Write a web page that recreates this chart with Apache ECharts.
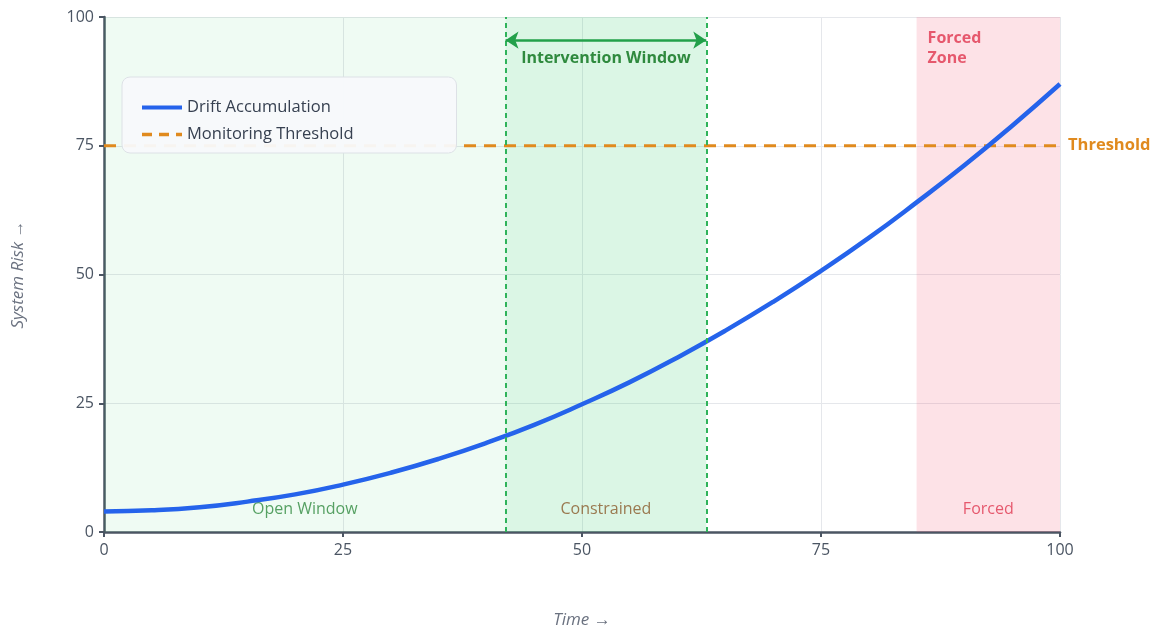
<!DOCTYPE html>
<html><head><meta charset="utf-8">
<script src="https://cdn.jsdelivr.net/npm/echarts@6/dist/echarts.min.js"></script>
<style>html,body{margin:0;padding:0;background:#fff}#c{width:1160px;height:627px}</style>
</head><body><div id="c"></div>
<script>
const timePoints = [0,5,10,15,20,25,30,35,40,45,50,55,60,65,70,75,80,85,90,95,100];
const driftValues = [4.0,4.2,4.8,5.9,7.3,9.2,11.5,14.2,17.3,20.8,24.8,29.1,33.9,39.1,44.7,50.7,57.1,64.0,71.2,78.9,87.0];
const thresholdValue = 75;
const xTicks = [0,25,50,75,100];
const yTicks = [0,25,50,75,100];
const zones = [
  {name:'Open Window', from:0, to:42},
  {name:'Constrained', from:42, to:63},
  {name:'Forced', from:85, to:100}
];
const interventionWindow = [42,63];
const zoneLabelY = 4.3;
const arrowY = 95.5;

const FONT = '"Open Sans", "Noto Sans", sans-serif';
const chart = echarts.init(document.getElementById('c'));
const driftData = timePoints.map((t,i)=>[t,driftValues[i]]);

const zoneColors = ['rgba(34,197,94,0.075)','rgba(34,197,94,0.16)','rgba(244,63,94,0.15)'];
const zoneText = ['#2f8a3e','#8a5a2a','#e0364f'];

chart.setOption({
  animation:false,
  textStyle:{fontFamily:FONT},
  grid:{left:104,right:100,top:17,bottom:95,outerBoundsMode:'none',containLabel:false},
  legend:{
    left:122, top:77, orient:'vertical',
    backgroundColor:'rgba(248,250,252,0.95)', borderColor:'#dde1e6', borderWidth:1, borderRadius:8,
    padding:[22,103,10,18], itemWidth:40, itemHeight:14, itemGap:10,
    itemStyle:{opacity:0},
    textStyle:{fontSize:16.5,color:'#374151',fontFamily:FONT},
    data:[
      {name:'Drift Accumulation', lineStyle:{width:4,color:'#2563eb'}},
      {name:'Monitoring Threshold', lineStyle:{width:3.5,color:'#e08a1e',type:[10,7]}}
    ]
  },
  xAxis:{
    type:'value', min:0, max:100, interval:25,
    name:'Time →', nameLocation:'middle', nameGap:80,
    nameTextStyle:{fontStyle:'italic',fontSize:17,color:'#6b7280'},
    axisLine:{show:true,lineStyle:{color:'#4b5563',width:2.5}},
    axisTick:{show:true,length:5,lineStyle:{color:'#4b5563',width:2}},
    axisLabel:{fontSize:16,color:'#4b5563',margin:10},
    splitLine:{show:true,lineStyle:{color:'#e5e7eb',width:1}}
  },
  yAxis:{
    type:'value', min:0, max:100, interval:25,
    name:'System Risk →', nameLocation:'middle', nameGap:77,
    nameTextStyle:{fontStyle:'italic',fontSize:17,color:'#6b7280'},
    axisLine:{show:true,lineStyle:{color:'#4b5563',width:2.5}},
    axisTick:{show:true,length:5,lineStyle:{color:'#4b5563',width:2}},
    axisLabel:{fontSize:16,color:'#4b5563',margin:10},
    splitLine:{show:true,lineStyle:{color:'#e5e7eb',width:1}}
  },
  series:[
    {
      name:'Zones', type:'line', data:[], silent:true,
      markArea:{
        silent:true, label:{show:false},
        data: zones.map((z,i)=>[
          {xAxis:z.from, itemStyle:{color:zoneColors[i]}},
          {xAxis:z.to}
        ])
      },
      markLine:{
        silent:true, symbol:'none', label:{show:false},
        lineStyle:{color:'#2fb35a',type:[5,4],width:2},
        data: interventionWindow.map(v=>({xAxis:v}))
      }
    },
    {
      name:'Arrow', type:'line', data:[], silent:true,
      markLine:{
        silent:true, symbol:['arrow','arrow'], symbolSize:[13,13],
        lineStyle:{color:'#22a04a',type:'solid',width:2.5},
        label:{show:true,position:'middle',formatter:'Intervention Window',color:'#2f8a3e',fontWeight:'bold',fontSize:16,distance:-26},
        data:[[{coord:[interventionWindow[0],arrowY]},{coord:[interventionWindow[1],arrowY]}]]
      }
    },
    {
      name:'ZoneLabels', type:'scatter', symbolSize:0, silent:true,
      data: zones.map((z,i)=>({value:[(z.from+z.to)/2, zoneLabelY],
        label:{show:true,position:'inside',formatter:z.name,color:zoneText[i],fontSize:16}}))
    },
    {
      name:'ForcedTitle', type:'scatter', symbolSize:0, silent:true,
      data:[{value:[zones[2].from,100],
        label:{show:true,position:[11,11],align:'left',verticalAlign:'top',formatter:'Forced\nZone',color:'#e0364f',fontWeight:'bold',fontSize:16,lineHeight:20}}]
    },
    {
      name:'Monitoring Threshold', type:'line', data:[[0,thresholdValue],[100,thresholdValue]],
      symbol:'none', z:3,
      lineStyle:{color:'#e08a1e',width:3,type:[12,8]},
      itemStyle:{color:'#e08a1e'},
      endLabel:{show:true,formatter:'Threshold',color:'#e08a1e',fontWeight:'bold',fontSize:16.5,distance:8}
    },
    {
      name:'Drift Accumulation', type:'line', data:driftData, smooth:true, symbol:'none', z:4,
      lineStyle:{color:'#2563eb',width:4.5},
      itemStyle:{color:'#2563eb'}
    }
  ]
});
</script></body></html>
